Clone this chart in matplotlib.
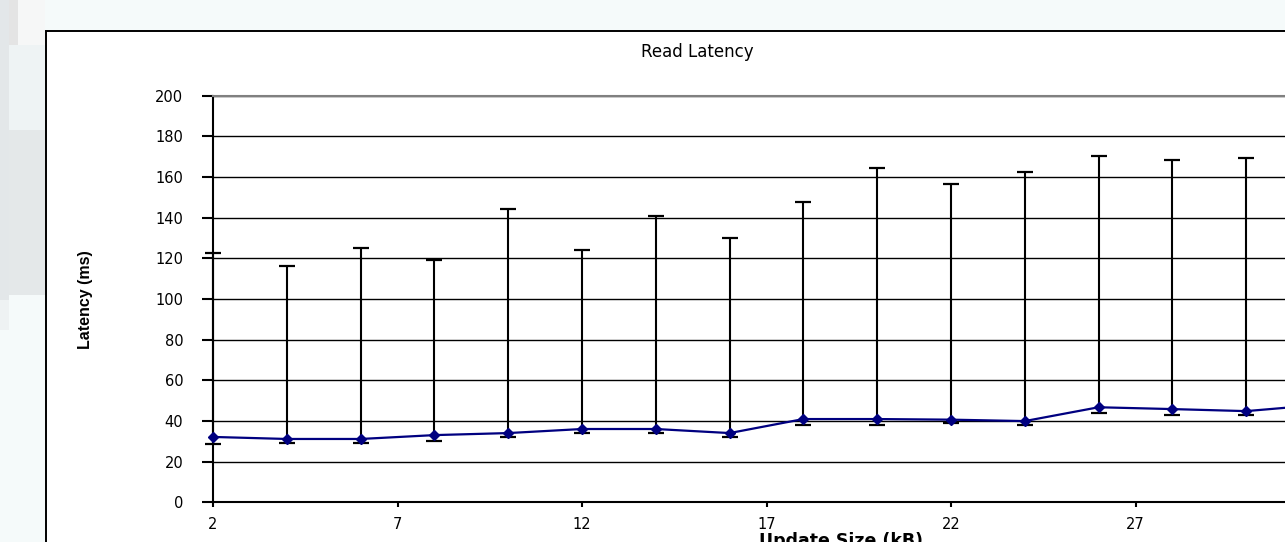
import numpy as np
import matplotlib
matplotlib.use('Agg')
import matplotlib.pyplot as plt
from matplotlib.patches import Rectangle

# update size (kB) and read latency (ms): mean, upper and lower error bounds
size_kb = [2, 4, 6, 8, 10, 12, 14, 16, 18, 20, 22, 24, 26, 28, 30, 32]
latency = [32.2, 31.2, 31.2, 33.1, 34.1, 36.1, 36.1, 34.1, 41.0, 41.0, 40.7, 40.0, 46.8, 45.9, 44.9, 48.0]
upper = [122.7, 116.5, 125.2, 119.1, 144.5, 124.0, 140.7, 130.1, 147.6, 164.3, 156.6, 162.3, 170.2, 168.2, 169.2, 170.0]
lower = [28.9, 29.2, 29.2, 30.2, 32.2, 34.1, 34.1, 32.2, 38.0, 38.0, 39.0, 38.0, 43.9, 42.9, 42.9, 45.0]

x_ticks = [2, 7, 12, 17, 22, 27]
y_ticks = list(range(0, 201, 20))

W, H = 1285, 542
fig = plt.figure(figsize=(W / 100, H / 100), dpi=100, facecolor='#f5fafa')


def px_rect(x0, y0, w, h, color, **kw):
    # rectangle given in pixel coords (origin top-left)
    r = Rectangle((x0 / W, 1 - (y0 + h) / H), w / W, h / H, transform=fig.transFigure,
                  facecolor=color, edgecolor='none', zorder=-2, **kw)
    fig.patches.append(r)


# blurry grey stuff on the far left of the screenshot
px_rect(0, 0, 9, 300, '#e3e7e9')
px_rect(9, 0, 9, 45, '#e4e4e4')
px_rect(18, 0, 27, 45, '#f6f7f7')
px_rect(9, 45, 36, 85, '#eef3f4')
px_rect(9, 130, 36, 165, '#e4e8e9')
px_rect(0, 300, 9, 30, '#eef2f3')

# chart area (white, black frame), runs off the right and bottom
chart = Rectangle((45.5 / W, -0.2), 1.5, 1.2 - 30.5 / H, transform=fig.transFigure,
                  facecolor='white', edgecolor='black', lw=1.4, zorder=-1)
fig.patches.append(chart)

ax = fig.add_axes([213 / W, 1 - 502.4 / H, (1320 - 213) / W, (502.4 - 95.8) / H])
ax.set_facecolor('white')

yerr = [np.array(latency) - np.array(lower), np.array(upper) - np.array(latency)]
eb = ax.errorbar(size_kb, latency, yerr=yerr, fmt='none', ecolor='black', elinewidth=1.5,
                 capsize=5.5, capthick=1.6, zorder=3)
for art in eb.lines[1] + eb.lines[2]:
    art.set_clip_on(False)

ax.plot(size_kb, latency, color='#000080', lw=1.6, marker='D', ms=5,
        zorder=4, clip_on=False)

ax.set_xlim(2, 32)
ax.set_ylim(0, 200)
ax.set_xticks(x_ticks)
ax.set_yticks(y_ticks)
ax.grid(axis='y', color='black', lw=1.0)
ax.set_axisbelow(True)

for s in ['left', 'bottom']:
    ax.spines[s].set_linewidth(1.5)
    ax.spines[s].set_color('black')
ax.spines['top'].set_color('#808080')
ax.spines['top'].set_linewidth(1.5)
ax.spines['right'].set_visible(False)

ax.tick_params(axis='y', length=8, width=1.5, pad=13.5, labelsize=10.5)
ax.tick_params(axis='x', length=3.6, width=1.5, pad=7, labelsize=10.5)
for lab in ax.get_xticklabels() + ax.get_yticklabels():
    lab.set_fontfamily('DejaVu Sans')

ax.set_ylabel('Latency (ms)', fontfamily='Liberation Sans', fontweight='bold', fontsize=11.5)
ax.yaxis.set_label_coords((86 - 213) / 1107, (502.4 - 299.5) / 406.6)
ax.yaxis.label.set_va('center')

ax.set_xlabel('Update Size (kB)', fontfamily='DejaVu Sans', fontweight='bold', fontsize=12.5)
ax.xaxis.set_label_coords((841 - 213) / 1107, -(531.5 - 502.4) / 406.6)
ax.xaxis.label.set_va('top')

fig.text(697.5 / W, 1 - 57.3 / H, 'Read Latency', ha='center', va='baseline',
         fontsize=12, fontfamily='DejaVu Sans')

fig.savefig('out.png', dpi=100, facecolor=fig.get_facecolor())
